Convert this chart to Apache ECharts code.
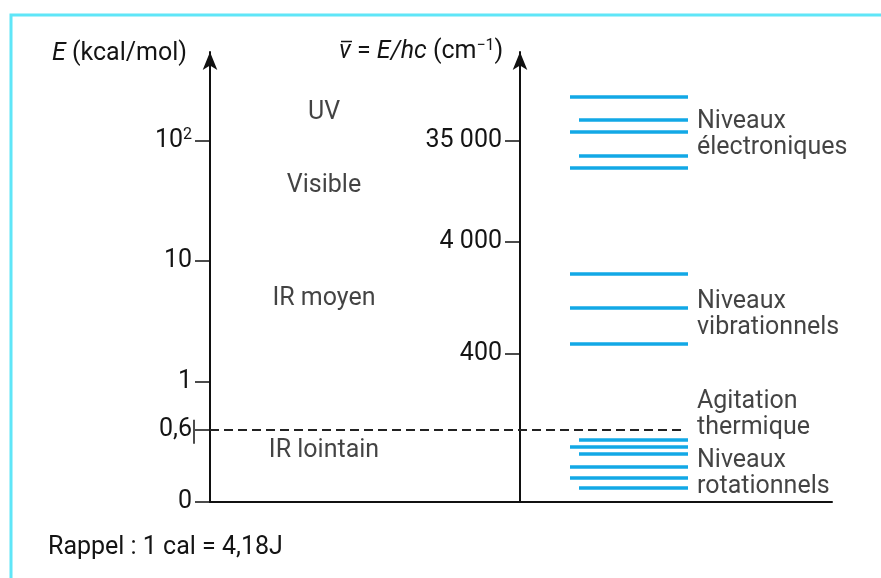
<!DOCTYPE html>
<html>
<head>
<meta charset="utf-8">
<script src="https://cdn.jsdelivr.net/npm/echarts@6/dist/echarts.min.js"></script>
<style>
  html, body { margin: 0; padding: 0; background: #ffffff; }
  #chart { width: 881px; height: 578px; }
</style>
</head>
<body>
<div id="chart"></div>
<script>
// ---------- data (energies in kcal/mol) ----------
const leftTickE = [0, 0.6, 1, 10, 100];
const leftTickLabels = ['0', '0,6', '1', '10', '10²'];

const wavenumberTicks = [35000, 4000, 400];
const wavenumberTickLabels = ['35 000', '4 000', '400'];
// where each wavenumber tick sits on the (schematic) energy scale, kcal/mol
const wavenumberTickE = [100, 14.4, 1.69];

const electronicLevels = [230, 148, 118, 74.4, 59.2];
const electronicShort = [false, true, false, true, false];
const vibrationalLevels = [7.8, 4.08, 2.05];
const vibrationalShort = [false, false, false];
const rotationalLevels = [0.515, 0.457, 0.398, 0.291, 0.199, 0.116];
const rotationalShort = [true, false, true, false, false, true];

const thermalE = 0.6;

const regionNames = ['UV', 'Visible', 'IR moyen', 'IR lointain'];
const regionE = [180, 45, 5.2, 0.45];

const groupNames = ['Niveaux\nélectroniques', 'Niveaux\nvibrationnels', 'Agitation\nthermique', 'Niveaux\nrotationnels'];
const groupE = [115.6, 3.7, 0.739, 0.249];

// ---------- schematic scale: linear below 1, log10 above ----------
function toAxis(E) { return E <= 1 ? E : 1 + Math.log10(E); }

const FONT = 'Roboto, "Liberation Sans", sans-serif';
const TXT = '#141414';
const AX = '#111111';
const BLUE = '#12a8e6';
const FS = 25;

const X_LONG = 360, X_SHORT = 369, X_END = 478;

function levelData(levels, shortFlags) {
  return levels.map((E, i) => ({
    coords: [[shortFlags[i] ? X_SHORT : X_LONG, toAxis(E)], [X_END, toAxis(E)]]
  }));
}

const leftTickPos = leftTickE.map(toAxis);
const rightTickPos = wavenumberTickE.map(toAxis);

const rich = {
  it: { fontStyle: 'italic', fontSize: FS, fontFamily: FONT, color: TXT },
  n: { fontSize: FS, fontFamily: FONT, color: TXT },
  sup: { fontSize: 16, fontFamily: FONT, color: TXT, padding: [0, 0, 12, 0] }
};
const richG = {
  it: { fontStyle: 'italic', fontSize: FS, fontFamily: FONT, fill: TXT },
  n: { fontSize: FS, fontFamily: FONT, fill: TXT },
  sup: { fontSize: 16, fontFamily: FONT, fill: TXT, padding: [0, 0, 12, 0] }
};

const chart = echarts.init(document.getElementById('chart'), null, { renderer: 'canvas' });

const option = {
  backgroundColor: '#ffffff',
  animation: false,
  textStyle: { fontFamily: FONT },
  grid: [
    { left: 210, right: 49, top: 52, bottom: 76 },
    { left: 520, width: 100, top: 52, bottom: 76 }
  ],
  xAxis: [
    {
      type: 'value', gridIndex: 0, min: 0, max: 622,
      axisLine: { show: true, onZero: false, lineStyle: { color: AX, width: 2 } },
      axisTick: { show: false }, axisLabel: { show: false }, splitLine: { show: false }
    },
    { type: 'value', gridIndex: 1, min: 0, max: 100, show: false }
  ],
  yAxis: [
    {
      type: 'value', gridIndex: 0, min: 0, max: 3.735, position: 'left',
      name: '{it|E} (kcal/mol)', nameLocation: 'end', nameGap: -2,
      nameTextStyle: { fontSize: FS, color: TXT, fontFamily: FONT, align: 'right', verticalAlign: 'middle', padding: [0, 23, 0, 0], rich: rich },
      axisLine: { show: true, onZero: false, symbol: ['none', 'arrow'], symbolSize: [11, 18], lineStyle: { color: AX, width: 2 } },
      axisTick: { show: true, length: 15, customValues: leftTickPos, lineStyle: { color: AX, width: 1.5 } },
      axisLabel: {
        show: true, margin: 18, customValues: leftTickPos, fontSize: FS, color: TXT, fontFamily: FONT,
        formatter: function (v) {
          let idx = 0, best = 1e9;
          leftTickPos.forEach((p, i) => { if (Math.abs(p - v) < best) { best = Math.abs(p - v); idx = i; } });
          const lab = leftTickLabels[idx];
          if (lab === '10²') return '{n|10}{sup|2}';
          return '{n|' + lab + '}';
        },
        rich: rich
      },
      splitLine: { show: false }
    },
    {
      type: 'value', gridIndex: 1, min: 0, max: 3.735, position: 'left',
      axisLine: { show: true, onZero: false, symbol: ['none', 'arrow'], symbolSize: [11, 18], lineStyle: { color: AX, width: 2 } },
      axisTick: { show: true, length: 15, customValues: rightTickPos, lineStyle: { color: AX, width: 1.5 } },
      axisLabel: {
        show: true, margin: 18, customValues: rightTickPos, fontSize: FS, color: TXT, fontFamily: FONT,
        formatter: function (v) {
          let idx = 0, best = 1e9;
          rightTickPos.forEach((p, i) => { if (Math.abs(p - v) < best) { best = Math.abs(p - v); idx = i; } });
          return wavenumberTickLabels[idx];
        }
      },
      splitLine: { show: false }
    }
  ],
  series: [
    {
      name: 'électroniques', type: 'lines', coordinateSystem: 'cartesian2d', xAxisIndex: 0, yAxisIndex: 0,
      polyline: false, silent: true,
      lineStyle: { color: BLUE, width: 3.5, opacity: 1 },
      data: levelData(electronicLevels, electronicShort)
    },
    {
      name: 'vibrationnels', type: 'lines', coordinateSystem: 'cartesian2d', xAxisIndex: 0, yAxisIndex: 0,
      polyline: false, silent: true,
      lineStyle: { color: BLUE, width: 3.5, opacity: 1 },
      data: levelData(vibrationalLevels, vibrationalShort)
    },
    {
      name: 'rotationnels', type: 'lines', coordinateSystem: 'cartesian2d', xAxisIndex: 0, yAxisIndex: 0,
      polyline: false, silent: true,
      lineStyle: { color: BLUE, width: 3.5, opacity: 1 },
      data: levelData(rotationalLevels, rotationalShort)
    },
    {
      name: 'agitation', type: 'lines', coordinateSystem: 'cartesian2d', xAxisIndex: 0, yAxisIndex: 0,
      polyline: false, silent: true,
      lineStyle: { color: '#222', width: 2, opacity: 1, type: [9, 5] },
      data: [{ coords: [[0, toAxis(thermalE)], [475, toAxis(thermalE)]] }]
    },
    {
      name: 'regions', type: 'scatter', xAxisIndex: 0, yAxisIndex: 0, symbolSize: 0, silent: true,
      label: { show: true, position: 'inside', offset: [0, 3], fontSize: FS, color: TXT, fontFamily: FONT,
               formatter: p => regionNames[p.dataIndex] },
      data: regionE.map(E => [114, toAxis(E)])
    },
    {
      name: 'groups', type: 'scatter', xAxisIndex: 0, yAxisIndex: 0, symbolSize: 0, silent: true,
      label: { show: true, position: 'right', distance: 0, offset: [0, 2], fontSize: FS, lineHeight: 26, color: TXT, fontFamily: FONT, align: 'left',
               formatter: p => groupNames[p.dataIndex] },
      data: groupE.map(E => [487, toAxis(E)])
    }
  ]
};

chart.setOption(option);

// decorations: frame, footnote, right axis name with overlined nu, small mark at 0,6
const p06 = chart.convertToPixel({ xAxisIndex: 0, yAxisIndex: 0 }, [0, toAxis(thermalE)]);
chart.setOption({
  graphic: [
    { type: 'rect', shape: { x: 11, y: 15, width: 1000, height: 1000 }, style: { fill: 'none', stroke: '#5fe6f8', lineWidth: 3 }, silent: true },
    { type: 'text', x: 48, y: 548, style: { text: 'Rappel : 1 cal = 4,18J', fontSize: FS, fontFamily: FONT, fill: TXT, verticalAlign: 'middle' } },
    { type: 'text', x: 339, y: 52, style: { text: '{it|ν} = {it|E/hc} (cm{sup|−1})', rich: richG, fontSize: FS, fontFamily: FONT, fill: TXT, verticalAlign: 'middle', align: 'left' } },
    { type: 'line', shape: { x1: 341, y1: 41.5, x2: 352, y2: 41.5 }, style: { stroke: TXT, lineWidth: 1.5 }, silent: true },
    { type: 'line', shape: { x1: p06[0] - 16, y1: p06[1] - 10, x2: p06[0] - 16, y2: p06[1] + 14 }, style: { stroke: AX, lineWidth: 1.5 }, silent: true }
  ]
});
</script>
</body>
</html>
